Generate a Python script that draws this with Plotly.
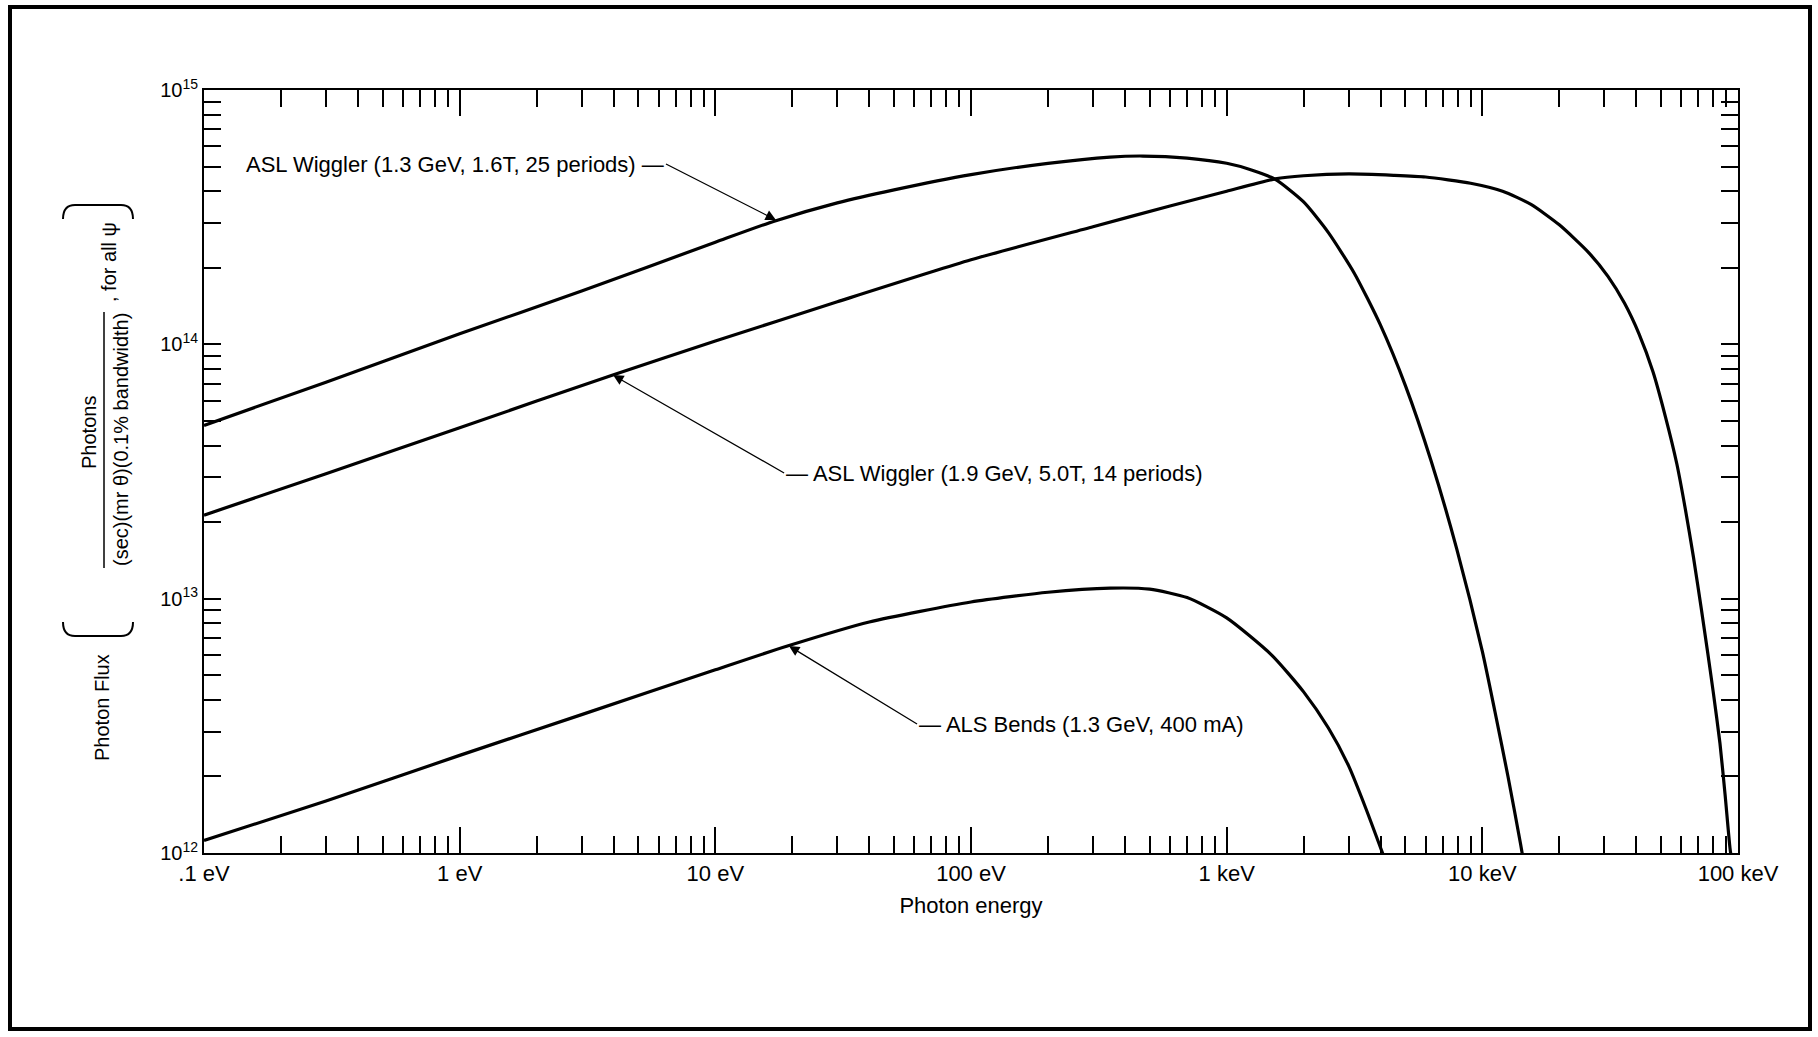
import plotly.graph_objects as go

# ---------------- data ----------------
energy_asl_13 = [0.1, 0.3, 1, 3, 10, 17, 30, 50, 100, 200, 350, 470, 700, 1000, 1250, 1550,
                 2000, 2500, 3160, 3980, 5010, 6310, 7940, 10000, 11200, 12600, 14100, 14600]
flux_asl_13 = [4.8e13, 7.1e13, 1.1e14, 1.62e14, 2.52e14, 3.05e14, 3.6e14, 4.05e14, 4.65e14,
               5.15e14, 5.45e14, 5.5e14, 5.4e14, 5.15e14, 4.85e14, 4.45e14, 3.63e14, 2.75e14,
               1.9e14, 1.2e14, 6.85e13, 3.47e13, 1.57e13, 6.2e12, 3.6e12, 2.0e12, 1.09e12,
               0.89e12]

energy_asl_19 = [0.1, 0.3, 1, 4, 10, 30, 100, 300, 600, 1000, 1550, 2000, 3000, 4500, 6000,
                 9000, 12000, 15500, 20000, 26000, 31000, 36000, 41000, 46500, 52000, 57600,
                 62000, 67000, 72000, 76000, 80000, 85000, 89000, 93000, 95000]
flux_asl_19 = [2.13e13, 3.1e13, 4.7e13, 7.6e13, 1.03e14, 1.47e14, 2.15e14, 2.9e14, 3.5e14,
               4.0e14, 4.47e14, 4.6e14, 4.68e14, 4.62e14, 4.55e14, 4.3e14, 4.0e14, 3.55e14,
               2.95e14, 2.3e14, 1.85e14, 1.45e14, 1.1e14, 7.8e13, 5.2e13, 3.4e13, 2.3e13,
               1.45e13, 9.0e12, 6.2e12, 4.3e12, 2.7e12, 1.7e12, 1.05e12, 0.9e12]

energy_als = [0.1, 0.3, 1, 3, 10, 19, 40, 100, 200, 350, 500, 700, 1000, 1500, 2000, 2500,
              3000, 3500, 4100]
flux_als = [1.12e12, 1.6e12, 2.42e12, 3.5e12, 5.25e12, 6.5e12, 8.1e12, 9.7e12, 1.06e13,
            1.1e13, 1.09e13, 1.01e13, 8.4e12, 6.0e12, 4.3e12, 3.1e12, 2.2e12, 1.5e12, 0.98e12]

x_tick_vals = [0.1, 1, 10, 100, 1000, 10000, 100000]
x_tick_text = [".1 eV", "1 eV", "10 eV", "100 eV", "1 keV", "10 keV", "100 keV"]
y_tick_vals = [1e12, 1e13, 1e14, 1e15]
y_tick_text = ["10<sup>12</sup>", "10<sup>13</sup>", "10<sup>14</sup>", "10<sup>15</sup>"]

label_asl_13 = "ASL Wiggler (1.3 GeV, 1.6T, 25 periods) \u2014"
label_asl_19 = "\u2014 ASL Wiggler (1.9 GeV, 5.0T, 14 periods)"
label_als = "\u2014 ALS Bends (1.3 GeV, 400 mA)"

minor_x = [k * 10.0 ** d for d in range(-1, 5) for k in range(2, 10)]
minor_y = [k * 10.0 ** d for d in range(12, 15) for k in range(2, 10)]

# ---------------- layout geometry (pixels) ----------------
W, H = 1818, 1037
L, R, T, B = 204, 1738, 90, 853
FONT = "Liberation Sans, Arial, Helvetica, sans-serif"


def px(x):
    return (x - L) / (R - L)


def py(y):
    return (B - y) / (B - T)


fig = go.Figure()
for xs, ys in [(energy_asl_13, flux_asl_13), (energy_asl_19, flux_asl_19), (energy_als, flux_als)]:
    fig.add_trace(go.Scatter(x=xs, y=ys, mode="lines",
                             line=dict(color="black", width=3.2, shape="spline", smoothing=0.6),
                             hoverinfo="skip"))

fig.update_layout(
    width=W, height=H,
    margin=dict(l=L, r=W - R, t=T, b=H - B),
    paper_bgcolor="white", plot_bgcolor="white",
    showlegend=False,
    font=dict(family=FONT, size=22, color="black"),
)

fig.update_xaxes(
    type="log", range=[-1, 5],
    tickmode="array", tickvals=x_tick_vals, ticktext=x_tick_text,
    ticks="inside", ticklen=26, tickwidth=1.5, tickcolor="black",
    showline=True, linewidth=2, linecolor="black", mirror="ticks",
    showgrid=False, zeroline=False,
    tickfont=dict(size=22, family=FONT),
    minor=dict(tickmode="array", tickvals=minor_x, ticks="inside", ticklen=17,
               tickwidth=1.5, tickcolor="black", showgrid=False),
    title=dict(text="Photon energy", font=dict(size=22, family=FONT), standoff=12),
)
fig.update_yaxes(
    type="log", range=[12, 15],
    tickmode="array", tickvals=y_tick_vals, ticktext=y_tick_text,
    ticks="inside", ticklen=17, tickwidth=1.5, tickcolor="black",
    showline=True, linewidth=2, linecolor="black", mirror="ticks",
    showgrid=False, zeroline=False,
    tickfont=dict(size=20, family=FONT),
    minor=dict(tickmode="array", tickvals=minor_y, ticks="inside", ticklen=17,
               tickwidth=1.5, tickcolor="black", showgrid=False),
)

annotations = []
# curve labels with their arrows: (text, anchor side, tail (log E, log F), tip (log E, log F))
for text, side, tail, tip in [
    (label_asl_13, "right", (0.807, 14.709), (1.237, 14.489)),
    (label_asl_19, "left", (1.269, 13.494), (0.600, 13.879)),
    (label_als, "left", (1.789, 12.507), (1.288, 12.814)),
]:
    annotations.append(dict(x=tip[0], y=tip[1], xref="x", yref="y",
                            ax=tail[0], ay=tail[1], axref="x", ayref="y",
                            text=text, xanchor=side, yanchor="middle",
                            showarrow=True, arrowhead=2, arrowsize=1.6,
                            arrowwidth=1.3, arrowcolor="black", standoff=0,
                            font=dict(size=22)))

# y-axis title pieces (rotated)
TF = 20


def ytitle(text, x, y):
    return dict(x=px(x), y=py(y), xref="paper", yref="paper", text=text, textangle=-90,
                showarrow=False, xanchor="center", yanchor="middle", font=dict(size=TF))


annotations.append(ytitle("Photon Flux", 102, 708))
annotations.append(ytitle("Photons", 89, 432))
annotations.append(ytitle("(sec)(mr \u03b8)(0.1% bandwidth)", 121, 440))
annotations.append(ytitle(", for all \u03c8", 109, 262))
fig.update_layout(annotations=annotations)

shapes = []
# fraction bar
shapes.append(dict(type="line", xref="paper", yref="paper",
                   x0=px(104), x1=px(104), y0=py(312), y1=py(568),
                   line=dict(color="black", width=1.5)))


def bracket(y_mid, y_end, x0=63, x1=133, r=12):
    return ("M {a},{b} Q {a},{c} {d},{c} L {e},{c} Q {f},{c} {f},{b}".format(
        a=px(x0), b=py(y_end), c=py(y_mid), d=px(x0 + r), e=px(x1 - r), f=px(x1)))


shapes.append(dict(type="path", xref="paper", yref="paper", path=bracket(636, 622),
                   line=dict(color="black", width=2)))
shapes.append(dict(type="path", xref="paper", yref="paper", path=bracket(205, 219),
                   line=dict(color="black", width=2)))
# outer frame
shapes.append(dict(type="rect", xref="paper", yref="paper",
                   x0=px(10), x1=px(1810), y0=py(1029), y1=py(7),
                   line=dict(color="black", width=4)))
fig.update_layout(shapes=shapes)

fig.write_html("out.html")
